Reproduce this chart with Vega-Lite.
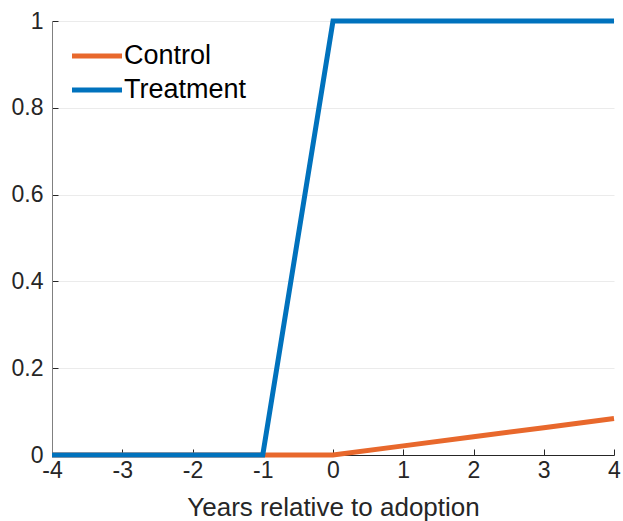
{
  "$schema": "https://vega.github.io/schema/vega-lite/v6.json",
  "width": 562,
  "height": 434,
  "autosize": {"type": "none"},
  "padding": {"left": 52, "top": 21, "right": 9, "bottom": 66},
  "background": "white",
  "config": {"view": {"stroke": null}, "font": "Liberation Sans"},
  "data": {"values": [
    {"year": -4, "value": 0, "group": "Control"},
    {"year": -3, "value": 0, "group": "Control"},
    {"year": -2, "value": 0, "group": "Control"},
    {"year": -1, "value": 0, "group": "Control"},
    {"year": 0, "value": 0, "group": "Control"},
    {"year": 1, "value": 0.021, "group": "Control"},
    {"year": 2, "value": 0.042, "group": "Control"},
    {"year": 3, "value": 0.063, "group": "Control"},
    {"year": 4, "value": 0.084, "group": "Control"},
    {"year": -4, "value": 0, "group": "Treatment"},
    {"year": -3, "value": 0, "group": "Treatment"},
    {"year": -2, "value": 0, "group": "Treatment"},
    {"year": -1, "value": 0, "group": "Treatment"},
    {"year": 0, "value": 1, "group": "Treatment"},
    {"year": 1, "value": 1, "group": "Treatment"},
    {"year": 2, "value": 1, "group": "Treatment"},
    {"year": 3, "value": 1, "group": "Treatment"},
    {"year": 4, "value": 1, "group": "Treatment"}
  ]},
  "mark": {"type": "line", "strokeWidth": 5, "clip": false},
  "encoding": {
    "x": {
      "field": "year", "type": "quantitative",
      "scale": {"domain": [-4, 4], "nice": false, "zero": false},
      "axis": {
        "title": "Years relative to adoption",
        "titleFontSize": 26, "titleFontWeight": "normal", "titleColor": "#262626", "titlePadding": 12,
        "values": [-4, -3, -2, -1, 0, 1, 2, 3, 4],
        "labelExpr": "'' + datum.value",
        "labelFontSize": 23, "labelColor": "#262626", "labelPadding": 10,
        "tickSize": -6, "tickColor": "#262626", "domainColor": "#262626",
        "grid": false, "labelFlush": false
      }
    },
    "y": {
      "field": "value", "type": "quantitative",
      "scale": {"domain": [0, 1], "nice": false},
      "axis": {
        "title": null,
        "values": [0, 0.2, 0.4, 0.6, 0.8, 1],
        "labelExpr": "'' + datum.value",
        "labelFontSize": 23, "labelColor": "#262626", "labelPadding": 15,
        "tickSize": -6, "tickColor": "#262626", "domainColor": "#808080",
        "grid": true, "gridColor": "#ebebeb", "gridWidth": 1
      }
    },
    "color": {
      "field": "group", "type": "nominal",
      "scale": {"domain": ["Control", "Treatment"], "range": ["#E8682C", "#0072BD"]},
      "legend": {
        "title": null, "orient": "none", "legendX": 30, "legendY": 20,
        "symbolType": "M-2,0H2", "symbolSize": 625, "symbolStrokeWidth": 5,
        "labelFontSize": 27, "labelColor": "#000000", "labelOffset": 12,
        "rowPadding": 6
      }
    }
  }
}
